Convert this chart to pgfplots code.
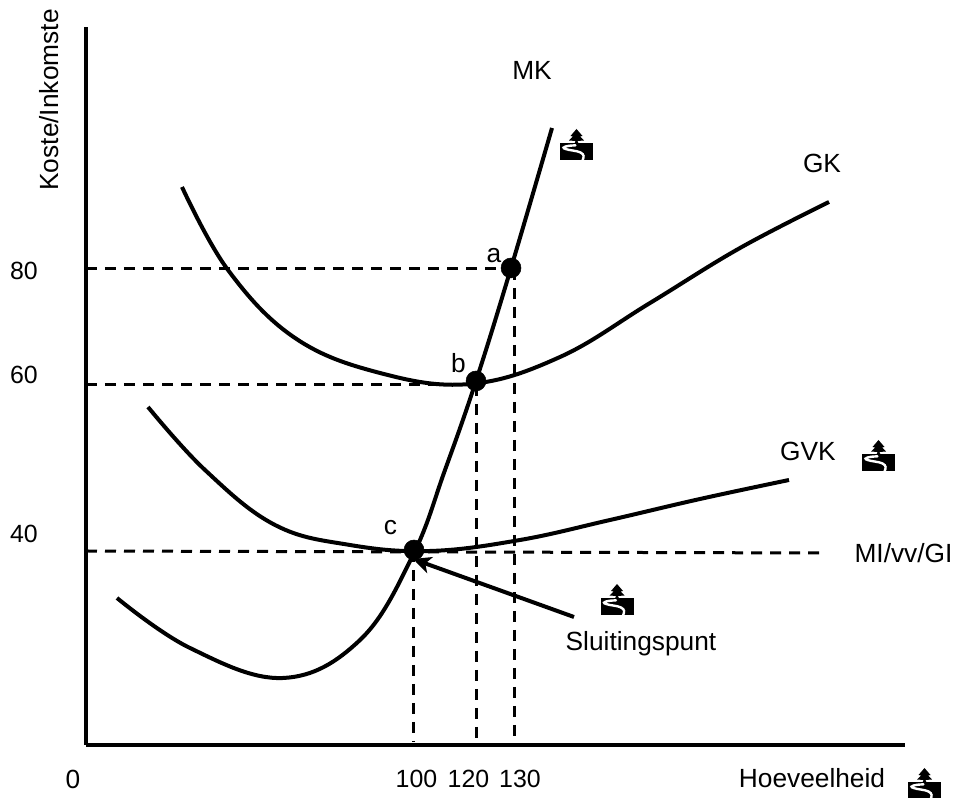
\documentclass[border=0pt]{standalone}
\usepackage{fontspec}
\setmainfont{Liberation Sans}
\usepackage{pgfplots}
\pgfplotsset{compat=1.18}
\usetikzlibrary{arrows.meta}
\newcommand{\icon}[2]{%
 \begin{scope}[shift={({#1-86},{745-#2})}]
  \fill[black] (-16.5,-15) rectangle (16.5,1.5);
  \draw[white,line width=2.4,line cap=round] (-1,-0.3) .. controls (-8,-0.5) and (-17,-2) .. (-11,-4) .. controls (-7,-5.5) and (0,-5.5) .. (4,-7.5) .. controls (8,-9.5) and (7.5,-12) .. (6,-15.5);
  \fill[black] (-2,1.5) -- (-1,4) -- (-7.5,4.5) -- (-3.5,8.5) -- (-6,9) -- (0,16) -- (6,9) -- (3.5,8.5) -- (7.5,4.5) -- (1,4) -- (2,1.5) -- cycle;
 \end{scope}}
\begin{document}
\begin{tikzpicture}[x=1bp,y=1bp]
\useasboundingbox (-86,-53) rectangle (869,745);
\begin{axis}[
  scale only axis, width=819bp, height=718bp,
  anchor=origin, at={(0,0)},
  xmin=0, xmax=819, ymin=0, ymax=718,
  axis x line=bottom, axis y line=left,
  x axis line style={line width=4.2bp,-},
  y axis line style={line width=4.2bp,-},
  tick style={draw=none}, major tick length=0pt,
  xtick={330.5,382.5,434}, xticklabels={100,120,130},
  ytick={211.4,370.4,474.4}, yticklabels={40,60,80},
  xticklabel style={yshift=-22bp},
  yticklabel style={anchor=center,xshift=-62bp},
  tick label style={font=\fontsize{25}{28}\selectfont},
  /pgf/number format/assume math mode=true,
  clip=false,
]
% MK
\addplot[black,line width=4bp,smooth,tension=0.65] coordinates {(31,147)(104,97)(197,67)(274,105)(327,190)(359,275)(390,364)(425,477)(466,617)};
% GK
\addplot[black,line width=4bp,smooth,tension=0.65] coordinates {(96,558)(142,475)(209,407)(294,372)(384,361)(474,388)(564,442)(654,497)(743,543)};
% GVK
\addplot[black,line width=4bp,smooth,tension=0.65] coordinates {(62,338)(119,275)(189,220)(264,200)(344,194)(434,205)(524,225)(614,246)(703,265)};
% dashed guides
\addplot[black,line width=3bp,dash pattern=on 11bp off 8bp] coordinates {(0,476)(425,476)};
\addplot[black,line width=3bp,dash pattern=on 11bp off 8bp] coordinates {(428,476)(428,3)};
\addplot[black,line width=3bp,dash pattern=on 11bp off 8bp] coordinates {(0,360)(390,360)};
\addplot[black,line width=3bp,dash pattern=on 11bp off 8bp] coordinates {(390,360)(390,3)};
\addplot[black,line width=3bp,dash pattern=on 11bp off 8bp] coordinates {(0,194)(739,192)};
\addplot[black,line width=3bp,dash pattern=on 11bp off 8bp] coordinates {(327,194)(327,3)};
% points
\addplot[only marks,mark=*,mark size=10bp,mark options={fill=black,draw=black,line width=0.5bp}] coordinates {(425,477)(390,364)(328,195)};
% arrow
\addplot[black,line width=4bp,-{Stealth[length=18bp,width=17bp,inset=5bp]}] coordinates {(488,128)(327,186)};
\end{axis}
\begin{scope}[font=\fontsize{26.4}{29}\selectfont]
\node[anchor=base] at (446,665) {MK};
\node[anchor=base] at (736,572) {GK};
\node[anchor=base] at (722,284) {GVK};
\node[anchor=base] at (817.5,182) {MI/vv/GI};
\node[anchor=base] at (408,482) {a};
\node[anchor=base] at (372.5,372) {b};
\node[anchor=base] at (304.5,210) {c};
\node[anchor=base] at (555,94) {Sluitingspunt};
\node[anchor=base] at (726,-43) {Hoeveelheid};
\node[anchor=base] at (-13,-44) {0};
\node[rotate=90,anchor=base] at (-27,645) {Koste/Inkomste};
\end{scope}
\icon{576.5}{145}\icon{878.5}{456}\icon{617}{600}\icon{924.5}{784}
\end{tikzpicture}
\end{document}
